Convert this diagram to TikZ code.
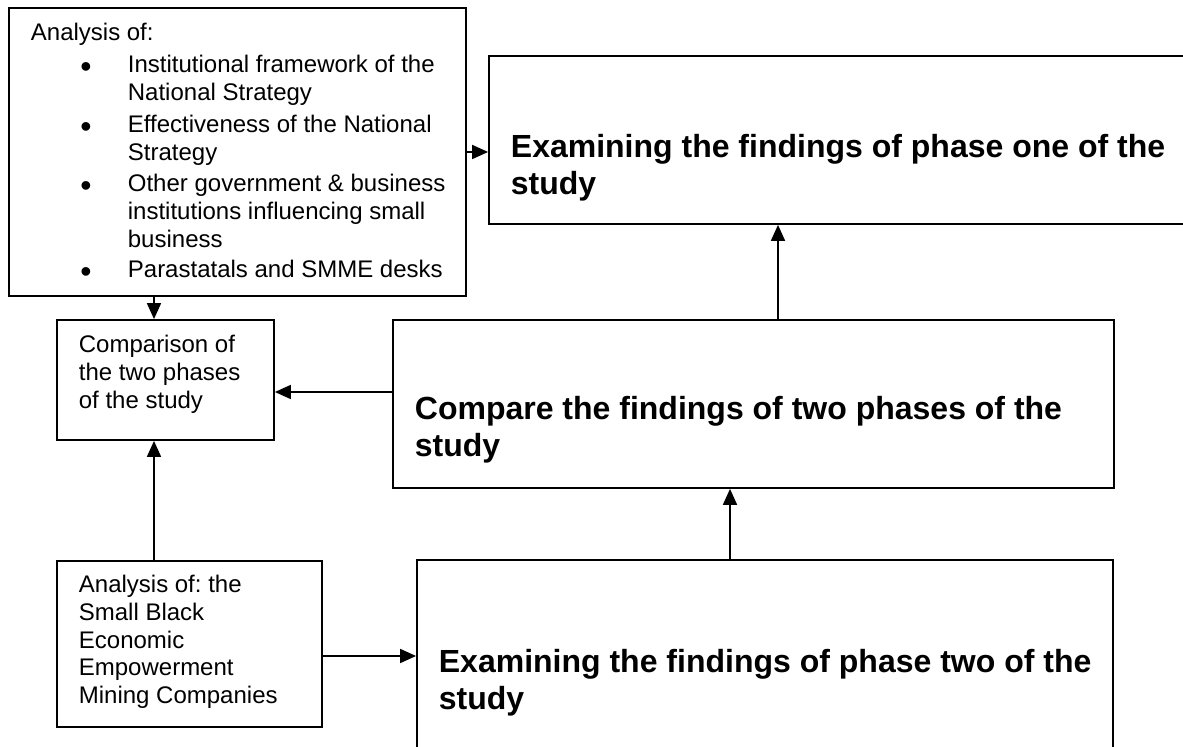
\documentclass[tikz,border=0pt]{standalone}
\usepackage{fontspec}
\setmainfont{Liberation Sans}
\usetikzlibrary{arrows.meta,fit}
\newcommand{\bulletmark}{\leavevmode\llap{\raisebox{-2.2pt}{\fontsize{16}{0}\selectfont\textbullet}\hspace{18.2pt}}}
\frenchspacing
\begin{document}
\begin{tikzpicture}[x=0.5pt, y=-0.5pt, line width=0.9pt, >={Triangle[length=8pt,width=7pt]},
	box/.style={draw, inner sep=0pt},
	txt/.style={anchor=base west, inner sep=0pt, font=\fontsize{12}{13.8}\selectfont},
	big/.style={anchor=base west, inner sep=0pt, font=\fontsize{16}{18.4}\selectfont\bfseries}]
	\useasboundingbox (0,0) rectangle (1183,747);
	\clip (0,0) rectangle (1183,747);
	\node[box, fit={(9,8) (466,296)}] (anaA) {};
	\node[box, fit={(489,56) (1200,224)}] (findOne) {};
	\node[box, fit={(57,320) (274,440)}] (compTwo) {};
	\node[box, fit={(393,320) (1114,488)}] (compare) {};
	\node[box, fit={(57,561) (322,727)}] (anaB) {};
	\node[box, fit={(417,560) (1113,780)}] (findTwo) {};
	\node[txt] (anaAhead) at (30,41) {Analysis of:};
	\node[txt] (itemA) at (127,73) {\parbox[t]{170pt}{\bulletmark Institutional framework of the\\National Strategy}};
	\node[txt] (itemB) at (127,133) {\parbox[t]{170pt}{\bulletmark Effectiveness of the National\\Strategy}};
	\node[txt] (itemC) at (127,192) {\parbox[t]{170pt}{\bulletmark Other government \& business\\institutions influencing small\\business}};
	\node[txt] (itemD) at (127,278) {\parbox[t]{170pt}{\bulletmark Parastatals and SMME desks}};
	\node[txt] (compTxt) at (78,353) {\parbox[t]{110pt}{Comparison of\\the two phases\\of the study}};
	\node[txt] (anaBTxt) at (78,593) {\parbox[t]{130pt}{Analysis of: the\\Small Black\\Economic\\Empowerment\\Mining Companies}};
	\node[big] (oneTxt) at (510,157.5) {\parbox[t]{340pt}{Examining the findings of phase one of the\\study}};
	\node[big] (cmpTxt) at (414,420) {\parbox[t]{340pt}{Compare the findings of two phases of the\\study}};
	\node[big] (twoTxt) at (438,673) {\parbox[t]{340pt}{Examining the findings of phase two of the\\study}};
	\coordinate (xa) at (154,0);
	\coordinate (xb) at (778,0);
	\coordinate (xc) at (730,0);
	\coordinate (ya) at (0,392);
	\coordinate (yb) at (0,656);
	\draw[->] (anaA.east) -- (anaA.east -| findOne.west);
	\draw[->] (anaA.south -| xa) -- (compTwo.north -| xa);
	\draw[->] (anaB.north -| xa) -- (compTwo.south -| xa);
	\draw[->] (compare.west |- ya) -- (compTwo.east |- ya);
	\draw[->] (compare.north -| xb) -- (findOne.south -| xb);
	\draw[->] (findTwo.north -| xc) -- (compare.south -| xc);
	\draw[->] (anaB.east |- yb) -- (findTwo.west |- yb);
\end{tikzpicture}
\end{document}
